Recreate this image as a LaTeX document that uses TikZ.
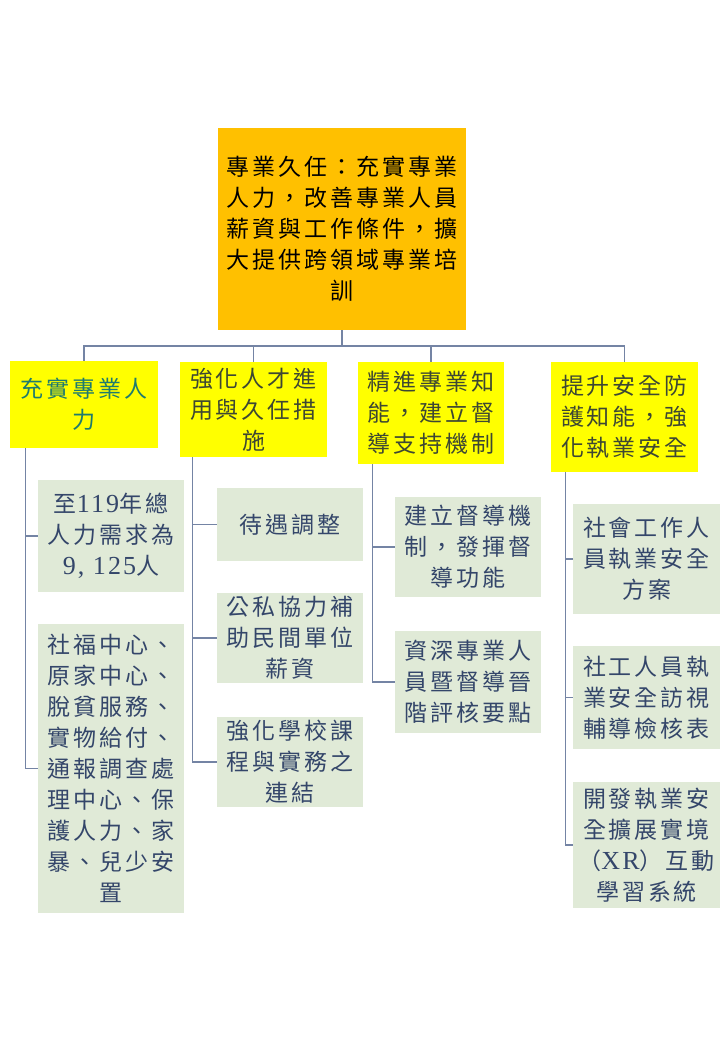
\documentclass[tikz,border=0pt]{standalone}
\usepackage{fontspec}
\newfontfamily\cjk{Noto Sans CJK TC}[LetterSpace=13]
\newfontfamily\lat{Liberation Serif}[LetterSpace=8]
\definecolor{topfill}{HTML}{FFC000}
\definecolor{midfill}{HTML}{FFFF00}
\definecolor{leaffill}{HTML}{E0EAD7}
\definecolor{tealtext}{HTML}{1E7B6E}
\definecolor{olivetext}{HTML}{3D4733}
\definecolor{leaftext}{HTML}{34466A}
\definecolor{linecol}{HTML}{7484A4}
\begin{document}
\begin{tikzpicture}[x=1pt,y=-1pt,
  boxbase/.style={rectangle,inner sep=0pt,align=center,
    font=\fontsize{23}{31}\selectfont\cjk},
  topbox/.style={boxbase,fill=topfill,text=black},
  midbox/.style={boxbase,fill=midfill,text=olivetext},
  leafbox/.style={boxbase,fill=leaffill,text=leaftext},
  conn/.style={draw=linecol,line width=1.3pt}]
\useasboundingbox[fill=white] (0,0) rectangle (720,1040);

% top
\node[topbox,minimum width=248pt,minimum height=202pt] (top) at (342,229)
 {專業久任：充實專業\\人力，改善專業人員\\薪資與工作條件，擴\\大提供跨領域專業培\\訓};

% level 1
\node[midbox,text=tealtext,minimum width=148pt,minimum height=87pt] (b1) at (84,404.5)
 {充實專業人\\力};
\node[midbox,minimum width=147pt,minimum height=95pt] (b2) at (253.5,409.5)
 {強化人才進\\用與久任措\\施};
\node[midbox,minimum width=146pt,minimum height=102pt] (b3) at (431,413)
 {精進專業知\\能，建立督\\導支持機制};
\node[midbox,minimum width=147pt,minimum height=110pt] (b4) at (624.5,417)
 {提升安全防\\護知能，強\\化執業安全};

% level 2, column 1
\node[leafbox,minimum width=146pt,minimum height=112pt] (l11) at (111,536)
 {至{\lat\fontsize{26}{31}\selectfont 119}年總\\人力需求為\\{\lat\fontsize{26}{31}\selectfont 9, 125}人};
\node[leafbox,minimum width=146pt,minimum height=289pt] (l12) at (111,768.5)
 {社福中心、\\原家中心、\\脫貧服務、\\實物給付、\\通報調查處\\理中心、保\\護人力、家\\暴、兒少安\\置};

% column 2
\node[leafbox,minimum width=146pt,minimum height=73pt] (l21) at (290,524.5)
 {待遇調整};
\node[leafbox,minimum width=146pt,minimum height=90pt] (l22) at (290,638)
 {公私協力補\\助民間單位\\薪資};
\node[leafbox,minimum width=146pt,minimum height=90pt] (l23) at (290,762)
 {強化學校課\\程與實務之\\連結};

% column 3
\node[leafbox,minimum width=146pt,minimum height=100pt] (l31) at (468,547)
 {建立督導機\\制，發揮督\\導功能};
\node[leafbox,minimum width=146pt,minimum height=102pt] (l32) at (468,682)
 {資深專業人\\員暨督導晉\\階評核要點};

% column 4
\node[leafbox,minimum width=147pt,minimum height=110pt] (l41) at (646.5,559)
 {社會工作人\\員執業安全\\方案};
\node[leafbox,minimum width=147pt,minimum height=103pt] (l42) at (646.5,697.5)
 {社工人員執\\業安全訪視\\輔導檢核表};
\node[leafbox,minimum width=147pt,minimum height=126pt] (l43) at (646.5,845)
 {開發執業安\\全擴展實境\\（{\lat\fontsize{26}{31}\selectfont XR}）互動\\學習系統};

% connectors top -> level 1
\coordinate (bus) at (342,346);
\draw[conn] (top.south) -- (bus);
\draw[conn] (bus) -| (b1.north);
\draw[conn] (bus) -| (b2.north);
\draw[conn] (bus) -| (b3.north);
\draw[conn] (bus) -| (b4.north);

% column connectors
\draw[conn] ([xshift=16pt]b1.south west) |- (l11.west);
\draw[conn] ([xshift=16pt]b1.south west) |- (l12.west);
\draw[conn] ([xshift=13pt]b2.south west) |- (l21.west);
\draw[conn] ([xshift=13pt]b2.south west) |- (l22.west);
\draw[conn] ([xshift=13pt]b2.south west) |- (l23.west);
\draw[conn] ([xshift=15pt]b3.south west) |- (l31.west);
\draw[conn] ([xshift=15pt]b3.south west) |- (l32.west);
\draw[conn] ([xshift=15pt]b4.south west) |- (l41.west);
\draw[conn] ([xshift=15pt]b4.south west) |- (l42.west);
\draw[conn] ([xshift=15pt]b4.south west) |- (l43.west);
\end{tikzpicture}
\end{document}
